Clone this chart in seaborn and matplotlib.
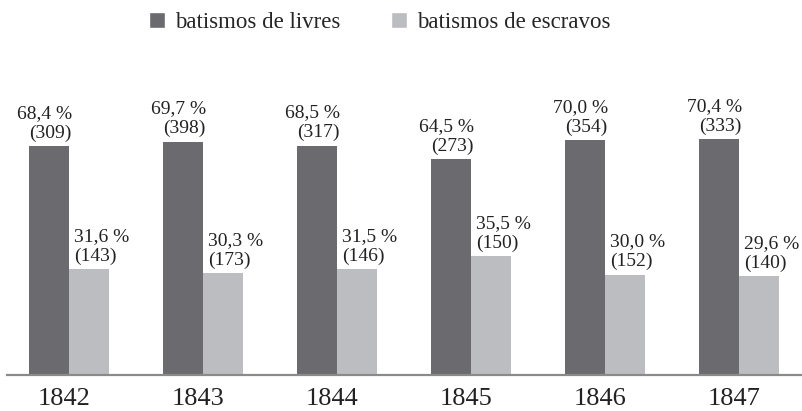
import matplotlib.pyplot as plt
import matplotlib.transforms as mtransforms
import seaborn as sns
import pandas as pd
from matplotlib.patches import Patch

# Data
anos = ['1842', '1843', '1844', '1845', '1846', '1847']
pct_livres = [68.4, 69.7, 68.5, 64.5, 70.0, 70.4]
n_livres = [309, 398, 317, 273, 354, 333]
pct_escravos = [31.6, 30.3, 31.5, 35.5, 30.0, 29.6]
n_escravos = [143, 173, 146, 150, 152, 140]
series = ['batismos de livres', 'batismos de escravos']
cores = ['#6b6b6f', '#bcbdc1']

df = pd.DataFrame({
    'ano': anos * 2,
    'pct': pct_livres + pct_escravos,
    'n': n_livres + n_escravos,
    'tipo': [series[0]] * len(anos) + [series[1]] * len(anos),
})

sns.set_style('white')
plt.rcParams['font.family'] = ['Liberation Serif', 'DejaVu Serif']

fig = plt.figure(figsize=(8.02, 4.11), dpi=100)
ax = fig.add_axes([7 / 802, 36 / 411, 795 / 802, 315 / 411])

sns.barplot(data=df, x='ano', y='pct', hue='tipo', hue_order=series,
            palette=cores, width=0.6, saturation=1, legend=False,
            linewidth=0, ax=ax)

ax.set_xlim(-0.463, 5.47)
ax.set_ylim(0, 315 / 3.35)

# value labels: dark ones right-aligned, light ones left-aligned
for bar, p, n in zip(ax.containers[0], pct_livres, n_livres):
    x = bar.get_x() + bar.get_width() + 0.02
    ax.annotate(f'{p:.1f} %'.replace('.', ',') + f'\n({n})',
                (x, bar.get_height()), xytext=(0, 3), textcoords='offset points',
                ha='right', va='bottom', fontsize=14, linespacing=1.2,
                multialignment='right', color='#222222')
for bar, p, n in zip(ax.containers[1], pct_escravos, n_escravos):
    x = bar.get_x() + 0.04
    ax.annotate(f'{p:.1f} %'.replace('.', ',') + f'\n({n})',
                (x, bar.get_height()), xytext=(0, 3), textcoords='offset points',
                ha='left', va='bottom', fontsize=14, linespacing=1.2,
                multialignment='left', color='#222222')

for s in ['top', 'right', 'left']:
    ax.spines[s].set_visible(False)
ax.spines['bottom'].set_color('#8a8a8a')
ax.spines['bottom'].set_linewidth(1.6)
ax.set_yticks([])
ax.set_xlabel('')
ax.set_ylabel('')
ax.tick_params(axis='x', length=0, labelsize=19, pad=9, labelcolor='#222222')
shift = mtransforms.ScaledTranslation(-5 / 100, 0, fig.dpi_scale_trans)
for lab in ax.get_xticklabels():
    lab.set_transform(lab.get_transform() + shift)

handles = [Patch(facecolor=c, label=s) for c, s in zip(cores, series)]
fig.legend(handles=handles, loc='upper left', bbox_to_anchor=(149 / 802, 1 - 12 / 411),
           ncol=2, frameon=False, fontsize=16.5, handlelength=0.7,
           handleheight=0.7, handletextpad=0.44, columnspacing=2.2,
           borderpad=0, borderaxespad=0)

fig.savefig('out.png', dpi=100)
